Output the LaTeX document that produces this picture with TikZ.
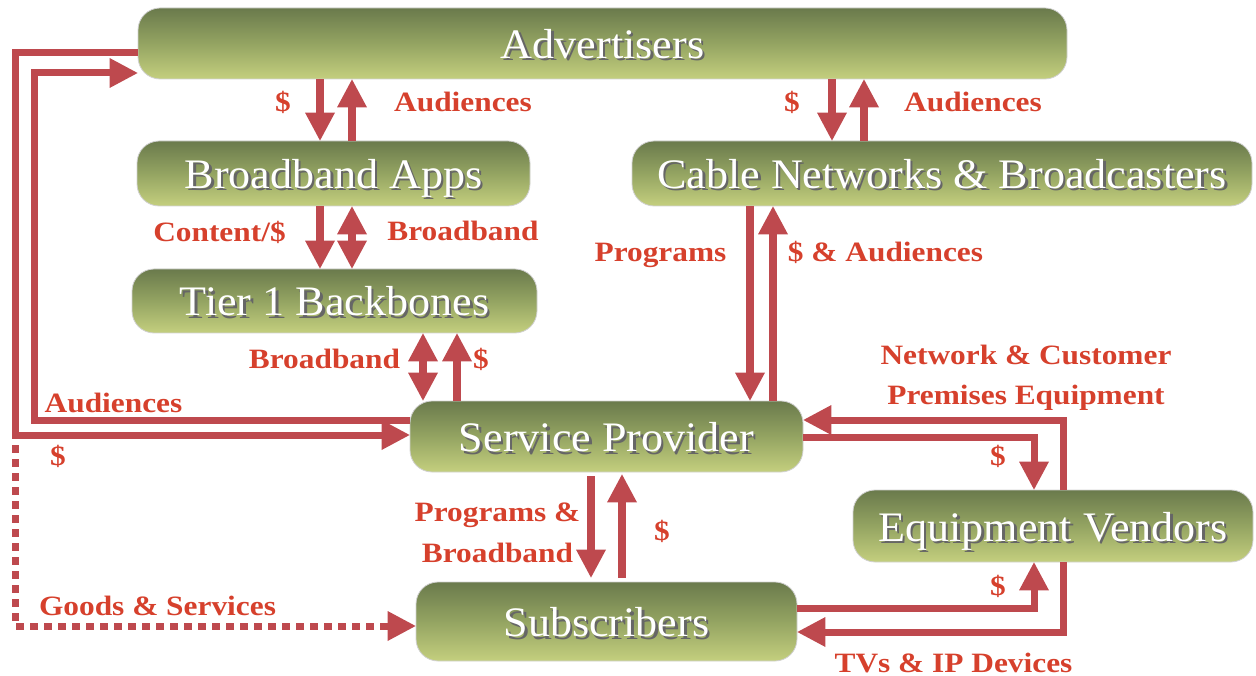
\documentclass[tikz,border=0pt]{standalone}
\usepackage{fontspec}
\setmainfont{Liberation Serif}
\newfontfamily\boxfont[FakeStretch=1.05]{Liberation Serif}
\newfontfamily\lblfont[FakeStretch=1.12]{Liberation Serif}
\usetikzlibrary{arrows.meta}
\definecolor{arrred}{RGB}{190,73,78}
\definecolor{lblred}{RGB}{214,64,44}
\definecolor{boxtop}{RGB}{106,122,76}
\definecolor{boxbot}{RGB}{196,207,126}
\definecolor{boxmid}{RGB}{148,164,98}
\newcommand{\shtext}[1]{\makebox[0pt][l]{\hspace{2.5pt}\raisebox{-2.5pt}{\textcolor{black!60}{#1}}}#1}
\begin{document}
\begin{tikzpicture}[x=1pt,y=-1pt,
  >={Triangle[length=28pt,width=30pt,line width=0pt]},
  box/.style={rounded corners=22pt, top color=boxtop, bottom color=boxbot, middle color=boxmid,
    draw=black!18, line width=0.8pt,
    text=white, font=\boxfont\fontsize{42}{46}\selectfont, inner sep=0pt,
    text height=30pt, text depth=0pt},
  lbl/.style={text=lblred, font=\lblfont\bfseries\fontsize{28}{34}\selectfont, inner sep=0pt, anchor=base},
  lbl2/.style={text=lblred, font=\lblfont\bfseries\fontsize{28}{40.5}\selectfont, inner sep=0pt, align=center},
  arr/.style={draw=arrred, line width=8pt, ->},
  dbl/.style={draw=arrred, line width=8pt, <->},
  lp/.style={draw=arrred, line width=7pt},
  dots/.style={draw=arrred, line width=7pt, dash pattern=on 8pt off 6pt}]
\useasboundingbox (0,0) rectangle (1256,676);

% boxes
\node[box, minimum width=929pt, minimum height=71pt] (adv) at (602.5,43.5) {\shtext{Advertisers}};
\node[box, minimum width=393pt, minimum height=65pt] (bba) at (333.5,173.5) {\shtext{Broadband Apps}};
\node[box, minimum width=620pt, minimum height=65pt] (cab) at (942,173.5) {\shtext{Cable Networks \& Broadcasters}};
\node[box, minimum width=405pt, minimum height=64pt] (t1) at (334.5,301) {\shtext{Tier 1 Backbones}};
\node[box, minimum width=393pt, minimum height=71pt] (sp) at (606.5,436.5) {\shtext{Service Provider}};
\node[box, minimum width=400pt, minimum height=72pt] (ev) at (1053,526) {\shtext{Equipment Vendors}};
\node[box, minimum width=381pt, minimum height=79pt] (sub) at (606.5,621.5) {\shtext{Subscribers}};

% helper coordinates
\coordinate (x320) at (320,0);
\coordinate (x352) at (352,0);
\coordinate (x832) at (832,0);
\coordinate (x864) at (864,0);
\coordinate (x750) at (750,0);
\coordinate (x773) at (773,0);
\coordinate (x423) at (423,0);
\coordinate (x457) at (457,0);
\coordinate (x591) at (591,0);
\coordinate (x622) at (622,0);
\coordinate (xm) at (1034,0);
\coordinate (xr) at (1063,0);
\coordinate (y53) at (0,53);
\coordinate (y420) at (0,420);
\coordinate (y437) at (0,437);
\coordinate (y608) at (0,608);
\coordinate (y632) at (0,632);
\coordinate (oc) at (15,435);
\coordinate (ic) at (34,73);
\coordinate (dc) at (15,626);

% vertical arrows
\draw[arr] (adv.south -| x320) -- (bba.north -| x320);
\draw[arr] (bba.north -| x352) -- (adv.south -| x352);
\draw[arr] (adv.south -| x832) -- (cab.north -| x832);
\draw[arr] (cab.north -| x864) -- (adv.south -| x864);
\draw[arr] (bba.south -| x320) -- (t1.north -| x320);
\draw[dbl] (bba.south -| x352) -- (t1.north -| x352);
\draw[arr] (cab.south -| x750) -- (sp.north -| x750);
\draw[arr] (sp.north -| x773) -- (cab.south -| x773);
\draw[dbl] (t1.south -| x423) -- (sp.north -| x423);
\draw[arr] (sp.north -| x457) -- (t1.south -| x457);
\draw[arr] ([yshift=-4pt]sp.south -| x591) -- ([yshift=4pt]sub.north -| x591);
\draw[arr] ([yshift=4pt]sub.north -| x622) -- ([yshift=-2pt]sp.south -| x622);

% left loops
\draw[lp, ->] (adv.west |- y53) -| (oc) -- (sp.west |- oc);
\draw[lp, ->] (sp.west |- y420) -| (ic) -- (adv.west |- ic);
\draw[dots, ->] ([yshift=4pt]oc) -- (dc) -- (sub.west |- dc);

% right loops
\draw[lp, ->] (ev.north -| xr) |- (sp.east |- y420);
\draw[lp, ->] (sp.east |- y437) -| (ev.north -| xm);
\draw[lp, ->] (sub.east |- y608) -| (ev.south -| xm);
\draw[lp, ->] (ev.south -| xr) |- (sub.east |- y632);

% labels
\node[lbl] (l1) at (283,112) {\$};
\node[lbl] (l2) at (463,112) {Audiences};
\node[lbl] (l3) at (792,112) {\$};
\node[lbl] (l4) at (973,112) {Audiences};
\node[lbl] (l5) at (219.5,242) {Content/\$};
\node[lbl] (l6) at (463,241) {Broadband};
\node[lbl] (l7) at (660.5,262) {Programs};
\node[lbl] (l8) at (885.5,262) {\$ \& Audiences};
\node[lbl] (l9) at (324.5,368) {Broadband};
\node[lbl] (l10) at (481,368) {\$};
\node[lbl2] (l11) at (1026,378) {Network \& Customer\\Premises Equipment};
\node[lbl] (l12) at (113.5,412) {Audiences};
\node[lbl] (l13) at (58,465) {\$};
\node[lbl] (l14) at (998,465) {\$};
\node[lbl2] (l15) at (497.5,533) {Programs \&\\Broadband};
\node[lbl] (l16) at (662,540) {\$};
\node[lbl] (l17) at (998,595) {\$};
\node[lbl] (l18) at (157.5,615) {Goods \& Services};
\node[lbl] (l19) at (953.5,672) {TVs \& IP Devices};
\end{tikzpicture}
\end{document}
